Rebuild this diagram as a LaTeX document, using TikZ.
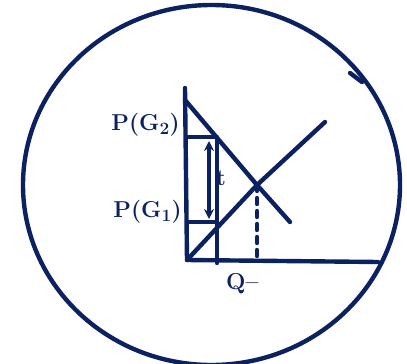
\documentclass[tikz,border=0pt]{standalone}
\usetikzlibrary{arrows.meta,calc,positioning}
\definecolor{Ink}{HTML}{0C2160}
\begin{document}
\begin{tikzpicture}[x=1pt,y=-1pt,line width=4.4pt,draw=Ink,line cap=round,line join=round,
  lab/.style={font=\bfseries\boldmath\fontsize{23}{23}\selectfont,text=Ink,inner sep=0pt}]
        \useasboundingbox (0,0) rectangle (407,364);
        % outer ring, cut off at the bottom edge
        \begin{scope}
          \clip (0,0) rectangle (407,364);
          \draw (211.5,185) ellipse [x radius=188.5, y radius=180];
        \end{scope}
        \draw (350,73)--(362,82);
        % axes and curves
        \coordinate (O) at (187,260);
        \coordinate (top) at (185,88);
        \coordinate (qend) at (378,262);
        \coordinate (E) at (257,185);
        \coordinate (pg2) at (217,137);
        \coordinate (pg1) at (217,222);
        \coordinate (base) at (217,263);
        \coordinate (foot) at (257,258);
        \draw (top)--(O)--(qend);
        \draw (185,100)--(E)--(290,222);
        \draw (O)--(E)--(325,122);
        \draw (pg2 -| O)--(pg2)--(base);
        \draw (pg1 -| O)--(pg1);
        \draw[line width=3.4pt,{Stealth[length=10pt,width=10pt]}-{Stealth[length=10pt,width=10pt]}]
          (209,141)--(209,219);
        \draw[dash pattern=on 6pt off 7pt] (E)--(foot);
        % labels
        \node[lab,anchor=east] (lg2) at (182,125) {P(G$_2$)};
        \node[lab,anchor=east] (lg1) at (184,212) {P(G$_1$)};
        \node[lab] (lt) at (221,178) {t};
        \node[lab,anchor=west] (lq) at (224,284) {Q--};
      \end{tikzpicture}
\end{document}
